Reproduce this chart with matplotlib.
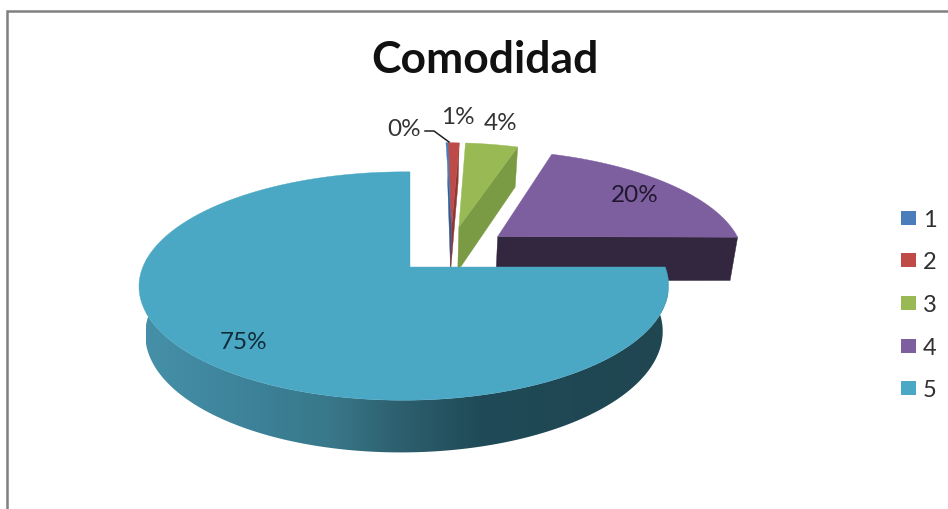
import numpy as np
import matplotlib
matplotlib.use('Agg')
import matplotlib.pyplot as plt
from matplotlib.colors import LinearSegmentedColormap
from matplotlib.patches import Polygon, Rectangle

# Data
title = 'Comodidad'
categories = ['1', '2', '3', '4', '5']
values = [0.2, 0.8, 4, 20, 75]

# Slice colours
top_colors = ['#4a7ebb', '#be4b48', '#98b954', '#7d5fa0', '#4aa8c4']
side_colors = ['#2f5a8f', '#8f3735', '#7a9a43', '#33273f']
rim_cmap = LinearSegmentedColormap.from_list(
    'rim', [(0, '#1f4651'), (0.36, '#204a57'), (0.51, '#2d5f6e'),
            (0.65, '#38788a'), (0.8, '#3d8299'), (1, '#4590a8')])

# Pie geometry, in pixels
cx, cy = 410, 268
rx, ry = 261, 111
persp_v, persp_u = 1 / 6, -0.023
depth = 46
depth_scale = 0.977

# How far each slice is pulled out of the pie
pull_u = [0.17, 0.17, 0.2, 0.355, 0.0]
pull_v = [-0.383, -0.383, -0.383, -0.29, 0.0]

# Label placement
label_pos = [(404, 130), (458, 117), (501, 124), (635, 196), (244, 343)]
label_colors = ['#333333', '#333333', '#333333', '#21182e', '#0f2c3a']
legend_y = [219, 261, 304, 347, 389]


def project(u, v, low=False):
    # Flat disc coordinates to screen pixels with a simple perspective
    s = 1 / (1 - persp_v * v - persp_u * u)
    k = depth_scale if low else 1
    x = cx + rx * u * s * k
    y = cy + ry * v * s * k + (depth * s if low else 0)
    return x, y


plt.rcParams['font.family'] = ['Lato', 'DejaVu Sans']
fig = plt.figure(figsize=(9.48, 5.10), dpi=100)
ax = fig.add_axes([0, 0, 1, 1])
ax.axis('off')

# Chart frame, only top and left show
ax.plot([7, 7, 948], [510, 12, 12], color='#808080', lw=1.8, solid_joinstyle='miter')

# Slice angles, clockwise from north
frac = np.cumsum([0] + values) / sum(values)
angles = frac * 2 * np.pi

for i in range(len(values)):
    t = np.linspace(angles[i], angles[i + 1], 200)
    du, dv = pull_u[i], pull_v[i]

    if i < len(values) - 1:
        # Cut face of the slice, seen from the front
        end = angles[i + 1]
        a = project(du, dv)
        b = project(du + np.sin(end), dv - np.cos(end))
        c = project(du + np.sin(end), dv - np.cos(end), low=True)
        d = project(du, dv, low=True)
        ax.fill([a[0], b[0], c[0], d[0]], [a[1], b[1], c[1], d[1]],
                color=side_colors[i], lw=0.3)
    else:
        # Round outer wall, shaded from right to left
        rim = np.linspace(angles[i], np.radians(290), 200)
        top_x, top_y = project(np.sin(rim), -np.cos(rim))
        low_x, low_y = project(np.sin(rim), -np.cos(rim), low=True)
        outline = np.column_stack([np.concatenate([top_x, low_x[::-1]]),
                                   np.concatenate([top_y, low_y[::-1]])])
        clip = Polygon(outline, transform=ax.transData, fc='none', ec='none')
        ax.add_patch(clip)
        ramp = np.linspace(1, 0, 256).reshape(1, -1)
        ax.imshow(ramp, cmap=rim_cmap, extent=[146, 668, 460, 260], aspect='auto',
                  clip_path=clip)

    # Top surface
    xs, ys = project(du + np.sin(t), dv - np.cos(t))
    x0, y0 = project(du, dv)
    ax.fill(np.concatenate([[x0], xs]), np.concatenate([[y0], ys]),
            color=top_colors[i], lw=0.3)

# Percent labels
for v, pos, col in zip(values, label_pos, label_colors):
    ax.text(pos[0], pos[1], f'{v:.0f}%', color=col, fontsize=17.5,
            ha='center', va='center')

# Leader line for the smallest slice
ax.plot([425, 434, 449], [132, 132, 143], color='#202020', lw=1.1)

ax.text(485, 60, title, fontsize=32, fontweight='bold', color='#111111',
        ha='center', va='center')

# Legend
for name, col, y in zip(categories, top_colors, legend_y):
    ax.add_patch(Rectangle((901, y - 7), 15, 14, color=col, lw=0))
    ax.text(923, y + 2, name, fontsize=17, color='#303030', va='center')

ax.set_xlim(0, 948)
ax.set_ylim(510, 0)
fig.savefig('out.png', dpi=100)
